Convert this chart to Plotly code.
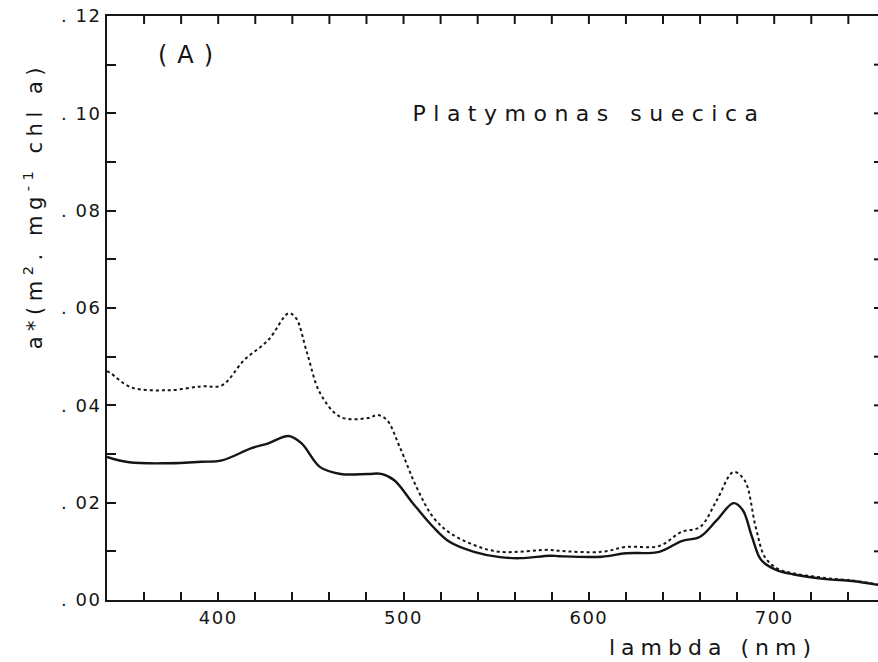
import plotly.graph_objects as go

# wavelength (nm) and a* values
wl_solid = [340, 352, 373, 391, 402, 418, 427, 438, 445, 455, 466, 481, 488, 495, 505, 516,
            525, 538, 552, 563, 579, 584, 607, 620, 638, 650, 660, 669, 678, 683, 688, 693,
            701, 710, 728, 742, 756]
a_solid = [0.0294, 0.0283, 0.0281, 0.0284, 0.0287, 0.0312, 0.0322, 0.0337, 0.0322, 0.0273,
           0.0259, 0.0259, 0.0259, 0.0246, 0.0199, 0.0150, 0.0119, 0.0099, 0.0088, 0.0086,
           0.0091, 0.0090, 0.0089, 0.0096, 0.0099, 0.0121, 0.0130, 0.0164, 0.0199, 0.0185,
           0.0130, 0.0082, 0.0062, 0.0053, 0.0043, 0.0039, 0.0031]

wl_dot = [340, 342, 353, 373, 391, 402, 414, 427, 438, 442, 448, 455, 466, 481, 486, 491,
          498, 507, 516, 525, 538, 552, 579, 584, 607, 620, 638, 650, 660, 669, 678, 684,
          690, 695, 702, 710, 728, 742, 756]
a_dot = [0.0470, 0.0466, 0.0437, 0.0431, 0.0439, 0.0441, 0.0493, 0.0534, 0.0589, 0.0579,
         0.0507, 0.0425, 0.0376, 0.0374, 0.0380, 0.0370, 0.0314, 0.0232, 0.0170, 0.0138,
         0.0113, 0.0099, 0.0103, 0.0101, 0.0099, 0.0109, 0.0111, 0.0140, 0.0150, 0.0205,
         0.0263, 0.0246, 0.0150, 0.0088, 0.0064, 0.0055, 0.0045, 0.0040, 0.0032]

# tick positions and labels (blank labels on unlabelled ticks)
x_tickvals = [360, 380, 400, 420, 440, 460, 480, 500, 520, 540, 560, 580, 600, 620, 640,
              660, 680, 700, 720, 740]
x_ticktext = ["", "", "400", "", "", "", "", "500", "", "", "", "", "600", "", "",
              "", "", "700", "", ""]
y_tickvals = [0.00, 0.01, 0.02, 0.03, 0.04, 0.05, 0.06, 0.07, 0.08, 0.09, 0.10, 0.11, 0.12]
y_ticktext = [". 00", "", ". 02", "", ". 04", "", ". 06", "", ". 08", "", ". 10", "", ". 12"]

FONT = "DejaVu Sans"
INK = "#151515"
PLOT_H = 662 - 16 - 62   # plot area height in px
PLOT_W = 878 - 107       # plot area width in px

fig = go.Figure()
fig.add_trace(go.Scatter(x=wl_dot, y=a_dot, mode="lines",
                         line=dict(color=INK, width=2, dash="dot"),
                         line_shape="spline", showlegend=False))
fig.add_trace(go.Scatter(x=wl_solid, y=a_solid, mode="lines",
                         line=dict(color=INK, width=2.4),
                         line_shape="spline", showlegend=False))

fig.update_layout(
    width=878, height=662,
    margin=dict(l=107, r=0, t=16, b=62),
    plot_bgcolor="white", paper_bgcolor="white", showlegend=False,
    xaxis=dict(range=[340, 756], showgrid=False, zeroline=False,
               showline=True, linecolor=INK, linewidth=2, mirror=True,
               tickmode="array", tickvals=x_tickvals, ticktext=x_ticktext,
               ticks="inside", ticklen=8, tickwidth=2, tickcolor=INK,
               tickfont=dict(family=FONT, size=18, color=INK)),
    yaxis=dict(range=[0, 0.12], showgrid=False, zeroline=False,
               showline=True, linecolor=INK, linewidth=2,
               tickmode="array", tickvals=y_tickvals, ticktext=y_ticktext,
               ticks="inside", ticklen=9, tickwidth=2, tickcolor=INK,
               tickfont=dict(family=FONT, size=18, color=INK)),
)

# inward ticks along the top edge (same tick positions as the bottom axis)
for xv in x_tickvals:
    fig.add_shape(type="line", xref="x", yref="paper", x0=xv, x1=xv,
                  y0=1, y1=1 - 8 / PLOT_H, line=dict(color=INK, width=2))
# short ticks along the right edge (same tick positions as the left axis)
for yv in y_tickvals[1:-1]:
    fig.add_shape(type="line", xref="paper", yref="y", x0=1, x1=1 - 4 / PLOT_W,
                  y0=yv, y1=yv, line=dict(color=INK, width=2))

fig.add_annotation(text="a*(m<sup>2</sup>. mg<sup>-1</sup> chl a)", xref="paper", yref="paper",
                   x=-0.096, y=0.675, textangle=-90, showarrow=False,
                   font=dict(family=FONT, size=21, color=INK), xanchor="center", yanchor="middle")
fig.add_annotation(text="lambda (nm)", xref="x", yref="paper", x=667, y=-0.082,
                   showarrow=False, font=dict(family=FONT, size=22, color=INK),
                   xanchor="center", yanchor="middle")
fig.add_annotation(text="(A)", xref="x", yref="y", x=385, y=0.1119, showarrow=False,
                   font=dict(family=FONT, size=24, color=INK), xanchor="center", yanchor="middle")
fig.add_annotation(text="Platymonas suecica", xref="x", yref="y", x=600, y=0.1, showarrow=False,
                   font=dict(family=FONT, size=22, color=INK), xanchor="center", yanchor="middle")

# widen the letter spacing to imitate the plotter lettering of the original
post = """
(function(){
  function widen(){
    var spacing = {'a*(m':'5.5px', 'lambda (nm)':'6px', '(A)':'10px', 'Platymonas suecica':'7.5px'};
    document.querySelectorAll('text.annotation-text').forEach(function(t){
      var s = t.textContent;
      for (var k in spacing){ if (s.indexOf(k) === 0){ t.style.letterSpacing = spacing[k]; } }
    });
    document.querySelectorAll('g.xtick text, g.ytick text').forEach(function(t){
      t.style.letterSpacing = '1.5px';
    });
  }
  widen();
  setTimeout(widen, 50);
})();
"""
fig.write_html("out.html", post_script=post)
